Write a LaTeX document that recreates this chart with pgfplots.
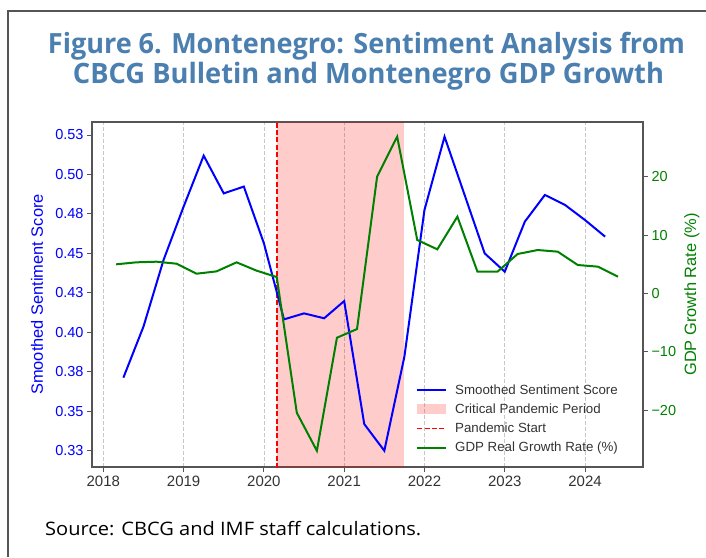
\documentclass[border=0pt]{standalone}
\usepackage{fontspec}
\setmainfont{Liberation Sans}
\newfontfamily\titlefont{Open Sans}
\usepackage{graphicx}
\usepackage{pgfplots}
\pgfplotsset{compat=1.18}
\definecolor{titleblue}{HTML}{4A7FB0}
\definecolor{tickgray}{HTML}{333333}
\definecolor{spine}{HTML}{555555}
\definecolor{mplgreen}{HTML}{008000}

\pgfplotstableread{
x y
2018.25 0.3713
2018.50 0.4036
2018.75 0.4458
2019.00 0.4796
2019.25 0.5119
2019.50 0.4880
2019.75 0.4923
2020.00 0.4564
2020.25 0.4082
2020.50 0.4120
2020.75 0.4089
2021.00 0.4198
2021.25 0.3419
2021.50 0.3250
2021.75 0.3846
2022.00 0.4775
2022.25 0.5239
2022.50 0.4870
2022.75 0.4500
2023.00 0.4384
2023.25 0.4701
2023.50 0.4870
2023.75 0.4807
2024.00 0.4711
2024.25 0.4606
}\sentiment

\pgfplotstableread{
x y
2018.16 4.98
2018.41 5.32
2018.66 5.43
2018.91 5.09
2019.16 3.37
2019.41 3.77
2019.66 5.32
2019.91 3.89
2020.16 2.80
2020.41 -20.47
2020.66 -26.99
2020.91 -7.60
2021.16 -6.12
2021.41 20.01
2021.66 26.87
2021.91 9.15
2022.16 7.55
2022.41 13.15
2022.66 3.72
2022.91 3.72
2023.16 6.75
2023.41 7.43
2023.66 7.15
2023.91 4.86
2024.16 4.58
2024.41 2.86
}\gdp

\begin{document}
\begin{tikzpicture}[x=1pt,y=1pt]
\path[use as bounding box] (0,0) rectangle (706,-557);
\draw[spine, line width=1.5pt] (8,-557) -- (8,-11) -- (706,-11);
\node[anchor=base, text=titleblue, inner sep=0pt] at (366.5,-53)
  {\resizebox{637pt}{21.3pt}{\titlefont\bfseries Figure 6. Montenegro: Sentiment Analysis from}};
\node[anchor=base, text=titleblue, inner sep=0pt] at (368.5,-83.5)
  {\resizebox{591pt}{21.3pt}{\titlefont\bfseries CBCG Bulletin and Montenegro GDP Growth}};
\node[anchor=base west, inner sep=0pt] at (45,-535)
  {\resizebox{376pt}{14.2pt}{\titlefont Source: CBCG and IMF staff calculations.}};

\begin{axis}[
  at={(92pt,-467pt)}, anchor=south west,
  scale only axis, width=551pt, height=345pt,
  xmin=2017.859, xmax=2024.722,
  ymin=0.3147, ymax=0.5332,
  xtick={2018,2019,2020,2021,2022,2023,2024},
  xticklabels={2018,2019,2020,2021,2022,2023,2024},
  ytick={0.325,0.35,0.375,0.4,0.425,0.45,0.475,0.5,0.525},
  yticklabels={0.33,0.35,0.38,0.40,0.43,0.45,0.48,0.50,0.53},
  xtick pos=bottom, ytick pos=left,
  tick align=outside, major tick length=5pt,
  every tick/.style={spine, line width=0.9pt},
  axis line style={spine, line width=1.6pt},
  xmajorgrids,
  grid style={black!22, dash pattern=on 4pt off 2pt, line width=0.6pt},
  x tick label style={font=\fontsize{15}{18}\selectfont, text=tickgray},
  y tick label style={font=\fontsize{14.5}{17}\selectfont, text=blue},
  ylabel={Smoothed Sentiment Score},
  ylabel style={font=\fontsize{16.4}{19}\selectfont, text=blue,
    at={(axis description cs:-0.0998,0.5)}, anchor=center},
]
\addplot[draw=none, fill=red, fill opacity=0.2, forget plot]
  coordinates {(2020.164,0.30) (2020.164,0.55) (2021.749,0.55) (2021.749,0.30)};
\addplot[red, line width=1.5pt, dash pattern=on 5pt off 2.4pt, forget plot]
  coordinates {(2020.164,0.30) (2020.164,0.55)};
\addplot[blue, line width=2pt] table[x=x, y=y] {\sentiment};
\end{axis}

\begin{axis}[
  at={(92pt,-467pt)}, anchor=south west,
  scale only axis, width=551pt, height=345pt,
  xmin=2017.859, xmax=2024.722,
  ymin=-29.77, ymax=29.38,
  axis x line=none, axis y line*=right,
  ytick={-20,-10,0,10,20},
  yticklabels={−20,−10,0,10,20},
  tick align=outside, major tick length=5pt,
  every tick/.style={spine, line width=0.9pt},
  axis line style={spine, line width=1.6pt},
  y tick label style={font=\fontsize{14.5}{17}\selectfont, text=mplgreen},
  ylabel={GDP Growth Rate (\%)},
  ylabel style={font=\fontsize{16.4}{19}\selectfont, text=mplgreen,
    at={(axis description cs:1.0889,0.5)}, anchor=center},
  legend cell align=left,
  legend style={draw=none, fill=none, inner sep=0pt,
    at={(axis description cs:0.588,0.2449)}, anchor=north west,
    font=\fontsize{13.3}{15}\selectfont, text=tickgray,
    column sep=6pt, row sep=4pt},
]
\addlegendimage{legend image code/.code={\draw[blue, line width=2pt] (0pt,0pt) -- (29pt,0pt);}}
\addlegendentry{Smoothed Sentiment Score}
\addlegendimage{legend image code/.code={\path[draw=none, fill=red, fill opacity=0.2] (0pt,-5pt) rectangle (29pt,5pt);}}
\addlegendentry{Critical Pandemic Period}
\addlegendimage{legend image code/.code={\draw[red, line width=1.5pt, dash pattern=on 5pt off 2.4pt] (0pt,0pt) -- (29pt,0pt);}}
\addlegendentry{Pandemic Start}
\addlegendimage{legend image code/.code={\draw[mplgreen, line width=2pt] (0pt,0pt) -- (29pt,0pt);}}
\addlegendentry{GDP Real Growth Rate (\%)}
\addplot[mplgreen, line width=2pt, forget plot] table[x=x, y=y] {\gdp};
\end{axis}
\end{tikzpicture}
\end{document}
